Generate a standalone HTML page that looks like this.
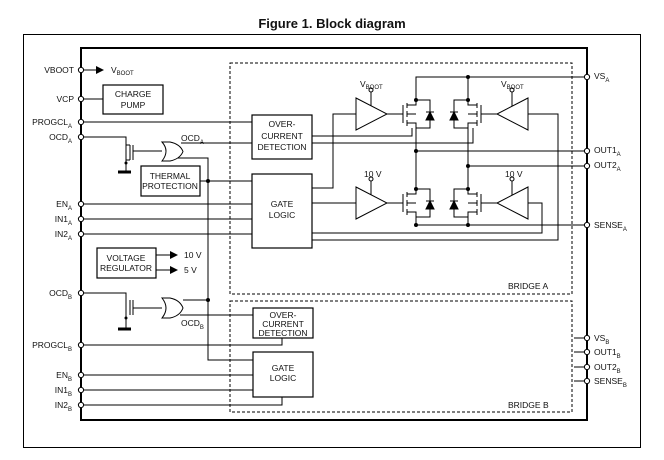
<!DOCTYPE html>
<html><head><meta charset="utf-8"><style>
html,body{margin:0;padding:0;background:#fff;width:664px;height:460px;overflow:hidden}
svg{display:block}
text{font-family:"Liberation Sans",Arial,sans-serif;font-size:8.5px;fill:#111}
.t{font-weight:bold;font-size:13px}
.s{font-size:6px}
</style></head><body>
<svg width="664" height="460" viewBox="0 0 664 460" xmlns="http://www.w3.org/2000/svg">
<text x="332" y="28" class="t" text-anchor="middle">Figure 1. Block diagram</text>
<rect x="23.5" y="34.5" width="617" height="413" fill="none" stroke="#000" stroke-width="1"/>
<rect x="81" y="48" width="506" height="372" fill="none" stroke="#000" stroke-width="2"/>
<g fill="none" stroke="#000" stroke-width="1" stroke-dasharray="3,2">
<rect x="230" y="63" width="342" height="231"/>
<rect x="230" y="301" width="342" height="111"/>
</g>
<g fill="none" stroke="#000" stroke-width="1.2">
<rect x="103" y="85" width="60" height="29"/>
<rect x="252" y="115" width="60" height="44"/>
<rect x="252" y="174" width="60" height="74"/>
<rect x="141" y="166" width="59" height="30"/>
<rect x="97" y="248" width="59" height="30"/>
<rect x="253" y="308" width="60" height="30"/>
<rect x="253" y="352" width="60" height="45"/>
</g>
<g fill="none" stroke="#000" stroke-width="1">
<!-- left pin lines -->
<line x1="81" y1="70" x2="96" y2="70"/>
<line x1="81" y1="99" x2="103" y2="99"/>
<line x1="81" y1="122" x2="252" y2="122"/>
<polyline points="81,137 126,137 126,145"/>
<line x1="81" y1="204" x2="252" y2="204"/>
<line x1="81" y1="219" x2="252" y2="219"/>
<line x1="81" y1="234" x2="252" y2="234"/>
<polyline points="81,293 126,293 126,300"/>
<polyline points="81,345 282,345 282,338"/>
<line x1="81" y1="375" x2="253" y2="375"/>
<line x1="81" y1="390" x2="253" y2="390"/>
<polyline points="81,405 282,405 282,397"/>
<!-- mosfet A -->
<line x1="130" y1="145" x2="130" y2="160"/><line x1="133" y1="145" x2="133" y2="160"/>
<line x1="133" y1="151" x2="162" y2="151"/>
<polyline points="126,145 130,145"/><polyline points="126,160 130,160 126,160 126,166"/>
<line x1="126" y1="145" x2="126" y2="166"/>
<line x1="118" y1="172" x2="131" y2="172" stroke-width="3"/>
<line x1="126" y1="166" x2="126" y2="172"/>
<!-- mosfet B -->
<line x1="130" y1="300" x2="130" y2="315"/><line x1="133" y1="300" x2="133" y2="315"/>
<line x1="133" y1="308" x2="162" y2="308"/>
<line x1="126" y1="300" x2="126" y2="328"/>
<line x1="118" y1="329" x2="131" y2="329" stroke-width="3"/>
<!-- OR gate A -->
<path d="M162,142 Q170,151 162,161 L170,161 Q180,159 183,151.5 Q180,144 170,142 Z"/>
<path d="M162,298 Q170,308 162,318 L170,318 Q180,316 183,308 Q180,300 170,298 Z"/>
<line x1="181" y1="143" x2="252" y2="143"/>
<line x1="181" y1="136" x2="252" y2="136" stroke="none"/>
<polyline points="178,158 208,158 208,360 253,360"/>
<line x1="200" y1="181" x2="252" y2="181"/>
<line x1="183" y1="300" x2="208" y2="300"/>
<line x1="180" y1="315" x2="253" y2="315"/>
<!-- overcurrent A outputs -->
<polyline points="312,136 412,136 412,128"/>
<polyline points="312,143 473,143 473,128"/>
<!-- gate logic outputs -->
<polyline points="312,188 333,188 333,114 356,114"/>
<line x1="312" y1="203" x2="356" y2="203"/>
<polyline points="312,233 542,233 542,203 528,203"/>
<polyline points="312,240 558,240 558,114 528,114"/>
<!-- amps -->
<polygon points="356,98 387,114 356,130"/>
<polygon points="528,98 497,114 528,130"/>
<polygon points="356,187 387,203 356,219"/>
<polygon points="528,187 497,203 528,219"/>
<line x1="371" y1="90" x2="371" y2="106"/><line x1="512" y1="90" x2="512" y2="106"/>
<line x1="371" y1="179" x2="371" y2="195"/><line x1="512" y1="179" x2="512" y2="195"/>
<line x1="387" y1="114" x2="403" y2="114"/><line x1="497" y1="114" x2="481" y2="114"/>
<line x1="387" y1="203" x2="403" y2="203"/><line x1="497" y1="203" x2="481" y2="203"/>
<!-- H bridge legs -->
<polyline points="587,77 468,77"/>
<polyline points="416,100 416,77 468,77 468,100"/>
<line x1="416" y1="128" x2="416" y2="189"/>
<line x1="468" y1="128" x2="468" y2="189"/>
<line x1="416" y1="151" x2="587" y2="151"/>
<line x1="468" y1="166" x2="587" y2="166"/>
<polyline points="416,217 416,225 587,225"/>
<line x1="468" y1="217" x2="468" y2="225"/>
<!-- mosfets and diodes (generic) -->
<g id="m">
<line x1="403" y1="105" x2="403" y2="123"/>
<line x1="407" y1="103" x2="407" y2="108"/><line x1="407" y1="111" x2="407" y2="117"/><line x1="407" y1="120" x2="407" y2="126"/>
<polyline points="407,105 416,105 416,100"/><polyline points="407,114 416,114"/><polyline points="407,123 416,123 416,128"/>
<polyline points="416,100 430,100 430,128 416,128"/>
<polygon points="426,120 434,120 430,112" fill="#000"/><line x1="426" y1="112" x2="434" y2="112"/>
</g>
<use href="#m" transform="translate(884,0) scale(-1,1)"/>
<use href="#m" transform="translate(0,89)"/>
<use href="#m" transform="translate(884,89) scale(-1,1)"/>
<!-- regulator arrows -->
<line x1="156" y1="255" x2="170" y2="255"/><line x1="156" y1="270" x2="170" y2="270"/>
<!-- right pins B -->
<line x1="574" y1="338" x2="587" y2="338"/><line x1="574" y1="352" x2="587" y2="352"/>
<line x1="574" y1="367" x2="587" y2="367"/><line x1="574" y1="381" x2="587" y2="381"/>
</g>
<g fill="#000">
<polygon points="96,66 104,70 96,74"/>
<polygon points="170,251 178,255 170,259"/><polygon points="170,266 178,270 170,274"/>
<circle cx="208" cy="181" r="2"/><circle cx="208" cy="300" r="2"/>
<circle cx="416" cy="100" r="2"/><circle cx="468" cy="100" r="2"/><circle cx="468" cy="77" r="2"/>
<circle cx="416" cy="151" r="2"/><circle cx="468" cy="166" r="2"/>
<circle cx="416" cy="189" r="2"/><circle cx="468" cy="189" r="2"/>
<circle cx="416" cy="225" r="2"/><circle cx="468" cy="225" r="2"/>
<circle cx="126" cy="163" r="1.5"/><circle cx="126" cy="318" r="1.5"/>
</g>
<g fill="#fff" stroke="#000" stroke-width="1">
<circle cx="81" cy="70" r="2.6"/><circle cx="81" cy="99" r="2.6"/><circle cx="81" cy="122" r="2.6"/><circle cx="81" cy="137" r="2.6"/>
<circle cx="81" cy="204" r="2.6"/><circle cx="81" cy="219" r="2.6"/><circle cx="81" cy="234" r="2.6"/>
<circle cx="81" cy="293" r="2.6"/><circle cx="81" cy="345" r="2.6"/><circle cx="81" cy="375" r="2.6"/><circle cx="81" cy="390" r="2.6"/><circle cx="81" cy="405" r="2.6"/>
<circle cx="587" cy="77" r="2.6"/><circle cx="587" cy="151" r="2.6"/><circle cx="587" cy="166" r="2.6"/><circle cx="587" cy="225" r="2.6"/>
<circle cx="587" cy="338" r="2.6"/><circle cx="587" cy="352" r="2.6"/><circle cx="587" cy="367" r="2.6"/><circle cx="587" cy="381" r="2.6"/>
<circle cx="371" cy="90" r="2"/><circle cx="512" cy="90" r="2"/><circle cx="371" cy="179" r="2"/><circle cx="512" cy="179" r="2"/>
</g>
<g text-anchor="end">
<text x="74" y="73">VBOOT</text><text x="74" y="102">VCP</text>
<text x="72" y="125">PROGCL<tspan class="s" dy="3">A</tspan></text>
<text x="72" y="140">OCD<tspan class="s" dy="3">A</tspan></text>
<text x="72" y="207">EN<tspan class="s" dy="3">A</tspan></text>
<text x="72" y="222">IN1<tspan class="s" dy="3">A</tspan></text>
<text x="72" y="237">IN2<tspan class="s" dy="3">A</tspan></text>
<text x="72" y="296">OCD<tspan class="s" dy="3">B</tspan></text>
<text x="72" y="348">PROGCL<tspan class="s" dy="3">B</tspan></text>
<text x="72" y="378">EN<tspan class="s" dy="3">B</tspan></text>
<text x="72" y="393">IN1<tspan class="s" dy="3">B</tspan></text>
<text x="72" y="408">IN2<tspan class="s" dy="3">B</tspan></text>
</g>
<text x="111" y="73">V<tspan class="s" dy="2">BOOT</tspan></text>
<text x="181" y="141">OCD<tspan class="s" dy="3">A</tspan></text>
<text x="181" y="326">OCD<tspan class="s" dy="3">B</tspan></text>
<text x="360" y="87">V<tspan class="s" dy="2">BOOT</tspan></text>
<text x="501" y="87">V<tspan class="s" dy="2">BOOT</tspan></text>
<text x="364" y="177">10 V</text><text x="505" y="177">10 V</text>
<text x="184" y="258">10 V</text><text x="184" y="273">5 V</text>
<g>
<text x="594" y="79">VS<tspan class="s" dy="3">A</tspan></text>
<text x="594" y="153">OUT1<tspan class="s" dy="3">A</tspan></text>
<text x="594" y="168">OUT2<tspan class="s" dy="3">A</tspan></text>
<text x="594" y="228">SENSE<tspan class="s" dy="3">A</tspan></text>
<text x="594" y="341">VS<tspan class="s" dy="3">B</tspan></text>
<text x="594" y="355">OUT1<tspan class="s" dy="3">B</tspan></text>
<text x="594" y="370">OUT2<tspan class="s" dy="3">B</tspan></text>
<text x="594" y="384">SENSE<tspan class="s" dy="3">B</tspan></text>
</g>
<g text-anchor="middle">
<text x="133" y="97">CHARGE</text><text x="133" y="108">PUMP</text>
<text x="282" y="127">OVER-</text><text x="282" y="139">CURRENT</text><text x="282" y="150">DETECTION</text>
<text x="282" y="207">GATE</text><text x="282" y="218">LOGIC</text>
<text x="170" y="179">THERMAL</text><text x="170" y="189">PROTECTION</text>
<text x="126" y="261">VOLTAGE</text><text x="126" y="271">REGULATOR</text>
<text x="283" y="318">OVER-</text><text x="283" y="327">CURRENT</text><text x="283" y="336">DETECTION</text>
<text x="283" y="371">GATE</text><text x="283" y="381">LOGIC</text>
</g>
<text x="508" y="289">BRIDGE A</text>
<text x="508" y="408">BRIDGE B</text>
</svg>
</body></html>
